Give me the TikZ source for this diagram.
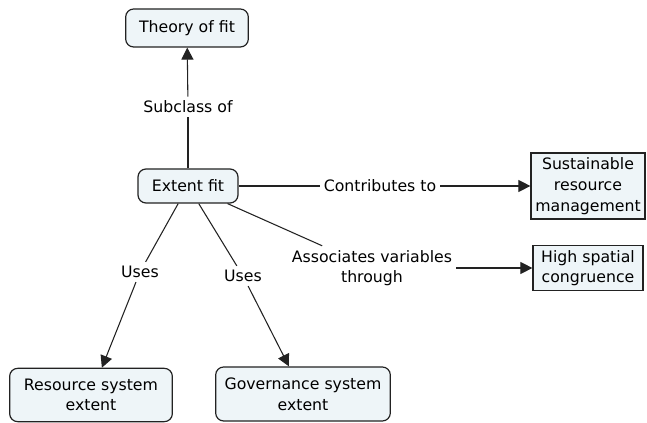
\documentclass[tikz,border=0pt]{standalone}
\usepackage{fontspec}
\setmainfont{DejaVu Sans}
\usetikzlibrary{arrows.meta}
\definecolor{boxfill}{HTML}{EEF5F8}
\definecolor{boxline}{HTML}{222222}

\begin{document}
\begin{tikzpicture}[x=0.75pt, y=-0.75pt,
  font=\fontsize{11.8}{15.5}\selectfont,
  concept/.style={draw=boxline, line width=0.9pt, fill=boxfill, rounded corners=6pt, align=center, inner sep=1pt},
  goal/.style={draw=boxline, line width=0.9pt, fill=boxfill, align=center, inner sep=1pt},
  linkword/.style={align=center, inner sep=3pt},
  link/.style={line width=0.8pt, draw=boxline},
  arrowlink/.style={link, -{Triangle[length=9pt, width=9pt]}}]
\useasboundingbox (0,0) rectangle (647,423);
% concepts
\node[concept, minimum width=92pt, minimum height=28.5pt] (theory) at (187,28) {Theory of fit};
\node[concept, minimum width=75pt, minimum height=25.5pt] (extent) at (188,186) {Extent fit};
\node[goal, minimum width=85.5pt, minimum height=49.5pt] (sustain) at (588,186) {Sustainable\\resource\\management};
\node[goal, minimum width=82.5pt, minimum height=33.75pt] (congruence) at (588,268) {High spatial\\congruence};
\node[concept, minimum width=122pt, minimum height=40pt] (resource) at (91,395) {Resource system\\extent};
\node[concept, minimum width=131pt, minimum height=40.5pt] (governance) at (303,394) {Governance system\\extent};
% linking words
\node[linkword] (subclass) at (188,107) {Subclass of};
\node[linkword] (contrib) at (380,186) {Contributes to};
\node[linkword] (assoc) at (372,268) {Associates variables\\through};
\node[linkword] (usesA) at (140,272) {Uses};
\node[linkword] (usesB) at (243,276) {Uses};
% connections
\draw[link] (extent) -- (subclass);
\draw[arrowlink] (subclass) -- (theory);
\draw[link] (extent) -- (contrib);
\draw[arrowlink] (contrib) -- (sustain);
\draw[link] (extent) -- (assoc);
\draw[arrowlink] (assoc) -- (congruence);
\draw[link] (extent) -- (usesA);
\draw[arrowlink] (usesA) -- (resource);
\draw[link] (extent) -- (usesB);
\draw[arrowlink] (usesB) -- (governance);
\end{tikzpicture}
\end{document}
